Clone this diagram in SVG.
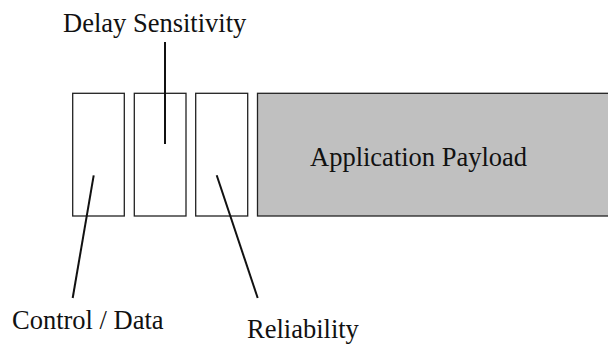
<svg xmlns="http://www.w3.org/2000/svg" width="608" height="344" viewBox="0 0 608 344">
<style>
.box{fill:#ffffff;stroke:#222;stroke-width:1.3}
.pay{fill:#c0c0c0;stroke:#222;stroke-width:1.3}
.lbl{font-family:"Times New Roman","Liberation Serif",Tinos,serif;font-size:26.5px;fill:#111}
.ln{stroke:#111;stroke-width:2;fill:none}
</style>
<rect width="608" height="344" fill="#fff"/>
<g id="field-control"><rect class="box" x="72.7" y="93.3" width="51.6" height="122.7"/></g>
<g id="field-delay"><rect class="box" x="134.3" y="93.3" width="51.7" height="122.7"/></g>
<g id="field-reliability"><rect class="box" x="195.7" y="93.3" width="52" height="122.7"/></g>
<g id="payload"><rect class="pay" x="257.5" y="93.3" width="360" height="122.7"/><text class="lbl" x="310" y="166">Application Payload</text></g>
<g id="connectors">
<line class="ln" x1="165" y1="42" x2="165" y2="144"/>
<line class="ln" x1="93.7" y1="175.3" x2="72.7" y2="298"/>
<line class="ln" x1="216.7" y1="175.3" x2="257.7" y2="298"/>
</g>
<g id="label-delay"><text class="lbl" x="63" y="32.3">Delay Sensitivity</text></g>
<g id="label-control"><text class="lbl" x="12" y="329">Control / Data</text></g>
<g id="label-reliability"><text class="lbl" x="247" y="338">Reliability</text></g>
</svg>
